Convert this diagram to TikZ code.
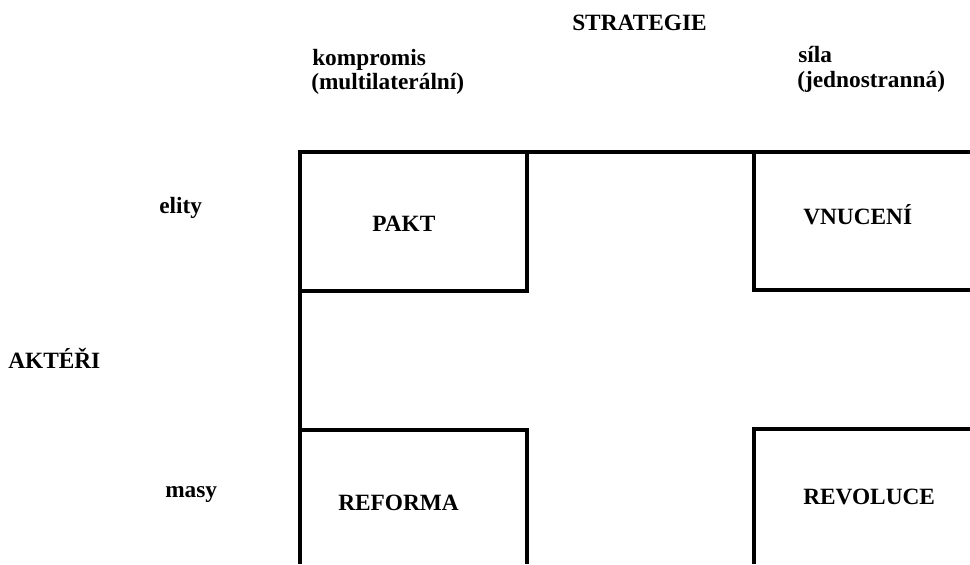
\documentclass[tikz,border=0pt]{standalone}
\usepackage{fontspec}
\setmainfont{Liberation Serif}
\usetikzlibrary{positioning}

\begin{document}
\begin{tikzpicture}[
  x=0.75pt, y=-0.75pt,
  every node/.style={inner sep=0pt, anchor=base west,
    font=\fontsize{17.5}{18}\selectfont\bfseries},
  frame/.style={line width=2.8pt, line join=miter}
]
  \useasboundingbox (0,0) rectangle (970,564);

  % headings
  \node (strat) at (572,30) {STRATEGIE};
  \node (komp) at (312,65) {kompromis};
  \node (multi) at (311,89) {(multilaterální)};
  \node (sila) at (798,62) {síla};
  \node (jedno) at (797,87) {(jednostranná)};
  \node (elity) at (159,213) {elity};
  \node (akteri) at (8,368) {AKTÉŘI};
  \node (masy) at (165,497) {masy};

  % cells
  \node (pakt) at (372,231) {PAKT};
  \node (vnuc) at (803,224) {VNUCENÍ};
  \node (reforma) at (338,510) {REFORMA};
  \node (revol) at (803,504) {REVOLUCE};

  \draw[frame] (300,564) -- (300,152) -- (970,152);
  \draw[frame] (527,152) -- (527,291) -- (300,291);
  \draw[frame] (754,152) -- (754,290) -- (970,290);
  \draw[frame] (300,430) -- (527,430) -- (527,564);
  \draw[frame] (970,429) -- (754,429) -- (754,564);
\end{tikzpicture}
\end{document}
